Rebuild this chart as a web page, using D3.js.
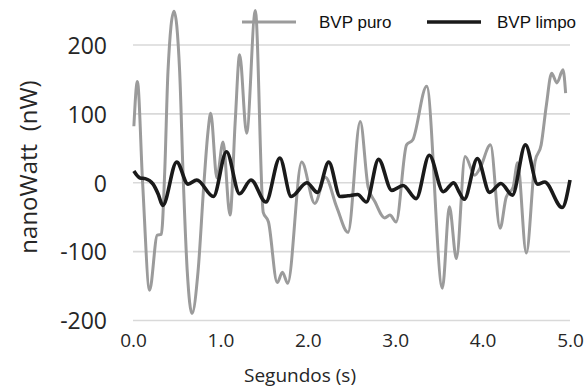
<!DOCTYPE html>
<html>
<head>
<meta charset="utf-8">
<script src="https://cdn.jsdelivr.net/npm/d3@7"></script>
<style>
  html, body { margin: 0; padding: 0; background: #fff; }
  svg { display: block; }
</style>
</head>
<body>
<svg id="chart" width="585" height="392"></svg>
<script>
// Raw BVP signal (time in s, value in nW)
const rawTime = [0.01, 0.05, 0.11, 0.19, 0.278, 0.324, 0.363, 0.40, 0.469, 0.534, 0.572, 0.621, 0.675, 0.744, 0.812, 0.858, 0.889,
  0.96, 1.03, 1.11, 1.17, 1.22, 1.30, 1.40, 1.49, 1.55, 1.65, 1.71, 1.77, 1.93, 2.08, 2.20, 2.33, 2.46,
  2.60, 2.69, 2.77, 2.88, 2.94, 3.01, 3.13, 3.20, 3.36, 3.54, 3.62, 3.70, 3.80, 3.91, 3.97, 4.09,
  4.20, 4.27, 4.35, 4.40, 4.50, 4.60, 4.67, 4.73, 4.79, 4.85, 4.92, 4.95];
const rawValue = [82, 147, 0, -156, -76, -75, 16, 161, 249, 161, 16, -129, -190, -129, 0, 74, 101,
  7, 59, -47, 90, 186, 72, 250, -43, -57, -145, -130, -146, 30, -30, 8, -35, -72,
  89, -6, -28, -51, -47, -57, 55, 62, 140, -153, -35, -110, 38, 11, 21, 55,
  -66, -21, -6, 29, -102, 31, 55, 113, 159, 145, 164, 130];

// Filtered BVP signal
const cleanTime = [0.01, 0.08, 0.14, 0.23, 0.29, 0.34, 0.50, 0.63, 0.73, 0.92, 1.07, 1.22, 1.35, 1.52, 1.68, 1.81, 1.99,
  2.11, 2.24, 2.37, 2.46, 2.57, 2.67, 2.81, 2.96, 3.09, 3.24, 3.39, 3.55, 3.67, 3.73, 3.79, 3.94,
  4.08, 4.21, 4.34, 4.49, 4.63, 4.71, 4.91, 5.00];
const cleanValue = [17, 7, 6, -2, -17, -33, 30, -2, 4, -20, 45, -16, 4, -28, 36, -20, 0,
  -14, 30, -20, -19, -17, -28, 34, -11, -4, -23, 40, -13, 0, -13, -24, 35,
  -14, -1, -18, 55, -2, 1, -36, 4];

const yTicks = [-200, -100, 0, 100, 200];
const yTickLabels = ["-200", "-100", "0", "100", "200"];
const xTicks = [0, 1, 2, 3, 4, 5];
const xTickLabels = ["0.0", "1.0", "2.0", "3.0", "4.0", "5.0"];
const seriesNames = ["BVP puro", "BVP limpo"];
const seriesColors = ["#9b9b9b", "#1a1a1a"];

const svg = d3.select("#chart");
const x = d3.scaleLinear().domain([0, 5]).range([133, 570]);
const y = d3.scaleLinear().domain([-200, 200]).range([320.5, 45]);

// Horizontal gridlines
svg.append("g").selectAll("line").data(yTicks).join("line")
  .attr("x1", x(0)).attr("x2", x(5))
  .attr("y1", d => y(d)).attr("y2", d => y(d))
  .attr("stroke", "#d9d9d9").attr("stroke-width", 1.6);

// Y axis labels
const yAxis = svg.append("g").attr("transform", "translate(107,0)")
  .call(d3.axisLeft(y).tickValues(yTicks).tickSize(0).tickPadding(0)
    .tickFormat((d, i) => yTickLabels[i]));
yAxis.select(".domain").remove();
yAxis.selectAll("text")
  .attr("font-family", "'Open Sans', sans-serif").attr("font-size", 23)
  .attr("fill", "#262626").attr("dy", "0.36em");

// X axis labels
const xAxis = svg.append("g").attr("transform", "translate(0,329)")
  .call(d3.axisBottom(x).tickValues(xTicks).tickSize(0).tickPadding(0)
    .tickFormat((d, i) => xTickLabels[i]));
xAxis.select(".domain").remove();
xAxis.selectAll("text")
  .attr("font-family", "'Open Sans', sans-serif").attr("font-size", 19)
  .attr("fill", "#262626").attr("dy", "0.95em");

// Axis titles
svg.append("text")
  .attr("x", 300).attr("y", 382).attr("text-anchor", "middle")
  .attr("font-family", "'Open Sans', sans-serif").attr("font-size", 19)
  .attr("fill", "#262626").text("Segundos (s)");
svg.append("text")
  .attr("transform", "translate(37,167) rotate(-90)").attr("text-anchor", "middle")
  .attr("font-family", "'Open Sans', sans-serif").attr("font-size", 24)
  .attr("fill", "#262626").attr("xml:space", "preserve").style("white-space", "pre")
  .text("nanoWatt  (nW)");

// Signal lines
const line = d3.line().x(d => x(d[0])).y(d => y(d[1])).curve(d3.curveMonotoneX);
const rawData = d3.zip(rawTime, rawValue);
const cleanData = d3.zip(cleanTime, cleanValue);

svg.append("path").datum(rawData).attr("d", line)
  .attr("fill", "none").attr("stroke", seriesColors[0]).attr("stroke-width", 3)
  .attr("stroke-linejoin", "round");
svg.append("path").datum(cleanData).attr("d", line)
  .attr("fill", "none").attr("stroke", seriesColors[1]).attr("stroke-width", 3.6)
  .attr("stroke-linejoin", "round");

// Legend
const legendX = [242, 427];
const legend = svg.append("g").selectAll("g").data(seriesNames).join("g")
  .attr("transform", (d, i) => `translate(${legendX[i]},22)`);
legend.append("line").attr("x1", 0).attr("x2", 54).attr("y1", 0).attr("y2", 0)
  .attr("stroke", (d, i) => seriesColors[i]).attr("stroke-width", (d, i) => i ? 3.6 : 3);
legend.append("text").attr("x", (d, i) => i ? 70 : 77).attr("y", 5.5)
  .attr("font-family", "'Liberation Sans', Arial, sans-serif").attr("font-size", 17)
  .attr("fill", "#111").text(d => d);
</script>
</body>
</html>
